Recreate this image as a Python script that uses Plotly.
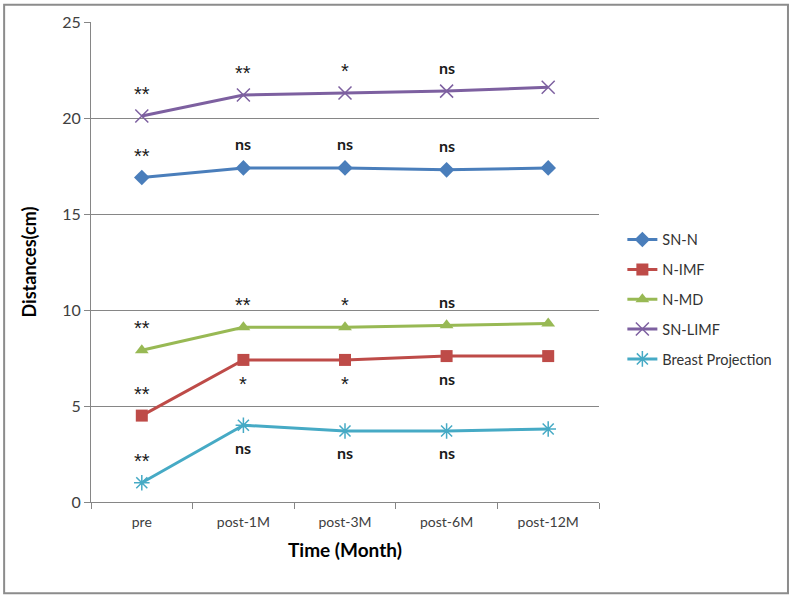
import plotly.graph_objects as go

categories = ["pre", "post-1M", "post-3M", "post-6M", "post-12M"]

sn_n = [16.9, 17.4, 17.4, 17.3, 17.4]
n_imf = [4.5, 7.4, 7.4, 7.6, 7.6]
n_md = [7.9, 9.1, 9.1, 9.2, 9.3]
sn_limf = [20.1, 21.2, 21.3, 21.4, 21.6]
breast_proj = [1.0, 4.0, 3.7, 3.7, 3.8]

series_names = ["SN-N", "N-IMF", "N-MD", "SN-LIMF", "Breast Projection"]

# significance labels per series (first four time points), and placement
sn_n_sig = ["**", "ns", "ns", "ns"]
n_imf_sig = ["**", "*", "*", "ns"]
n_md_sig = ["**", "**", "*", "ns"]
sn_limf_sig = ["**", "**", "*", "ns"]
breast_sig = ["**", "ns", "ns", "ns"]

n_imf_side = ["above", "below", "below", "below"]
breast_side = ["above", "below", "below", "below"]
above_side = ["above", "above", "above", "above"]

FONT = "Lato"
colors = ["#4A7EBB", "#BE4B48", "#98B954", "#7D60A0", "#46AAC5"]
symbols = ["diamond", "square", "triangle-up", "x-thin-open", "asterisk-open"]
sizes = [12, 12, 12, 13, 13]
data = [sn_n, n_imf, n_md, sn_limf, breast_proj]
sigs = [sn_n_sig, n_imf_sig, n_md_sig, sn_limf_sig, breast_sig]
sides = [above_side, n_imf_side, above_side, above_side, breast_side]

fig = go.Figure()
for i, (name, vals) in enumerate(zip(series_names, data)):
    open_sym = symbols[i].endswith("open")
    fig.add_trace(go.Scatter(
        x=categories, y=vals, name=name, mode="lines+markers",
        line=dict(color=colors[i], width=3),
        marker=dict(symbol=symbols[i], size=sizes[i], color=colors[i],
                    line=dict(color=colors[i], width=1.5 if open_sym else 0)),
        legendgroup=name,
    ))

annotations = []
for vals, sig, side in zip(data, sigs, sides):
    for j, lab in enumerate(sig):
        is_star = "*" in lab
        if side[j] == "above":
            ys = 22 if is_star else 24
        else:
            ys = -24 if is_star else -22
        annotations.append(dict(
            x=categories[j], y=vals[j], xref="x", yref="y",
            text=(lab if is_star else "<b>%s</b>" % lab),
            showarrow=False, yshift=ys,
            font=dict(family="Liberation Sans" if is_star else FONT,
                      size=20 if is_star else 16, color="#1a1a1a"),
        ))

annotations.append(dict(x=0.5, y=-0.07, xref="paper", yref="paper",
                        text="<b>Time (Month)</b>", showarrow=False,
                        yanchor="top",
                        font=dict(family=FONT, size=19, color="#000")))

fig.update_layout(
    width=793, height=600,
    margin=dict(l=91, r=194, t=22, b=98, autoexpand=False),
    paper_bgcolor="white", plot_bgcolor="white",
    font=dict(family=FONT, size=14, color="#404040"),
    annotations=annotations,
    legend=dict(x=1.046, y=0.58, xanchor="left", yanchor="top",
                font=dict(family=FONT, size=14.5, color="#333"),
                tracegroupgap=8, itemwidth=30, bgcolor="rgba(0,0,0,0)"),
    shapes=[dict(type="rect", xref="paper", yref="paper",
                 x0=-0.171, x1=1.372, y0=-0.19, y1=1.036,
                 line=dict(color="#8c8c8c", width=2))],
)
fig.update_xaxes(
    type="category", showline=True, linecolor="#868686", linewidth=1,
    ticks="outside", tickson="boundaries", ticklen=6, tickcolor="#868686",
    showgrid=False, tickfont=dict(family=FONT, size=14, color="#404040"),
    ticklabelstandoff=7, range=[-0.5, 4.5],
)
fig.update_yaxes(
    range=[0, 25], dtick=5, showline=True, linecolor="#868686", linewidth=1,
    ticks="outside", ticklen=6, tickcolor="#868686",
    showgrid=True, gridcolor="#868686", gridwidth=1, zeroline=False,
    tickfont=dict(family=FONT, size=16, color="#404040"),
    title=dict(text="<b>Distances(cm)</b>", standoff=20,
               font=dict(family=FONT, size=18, color="#000")),
)

fig.write_html("out.html", config={"displayModeBar": False},
               post_script="document.body.style.margin='0';document.body.style.overflow='hidden';")
